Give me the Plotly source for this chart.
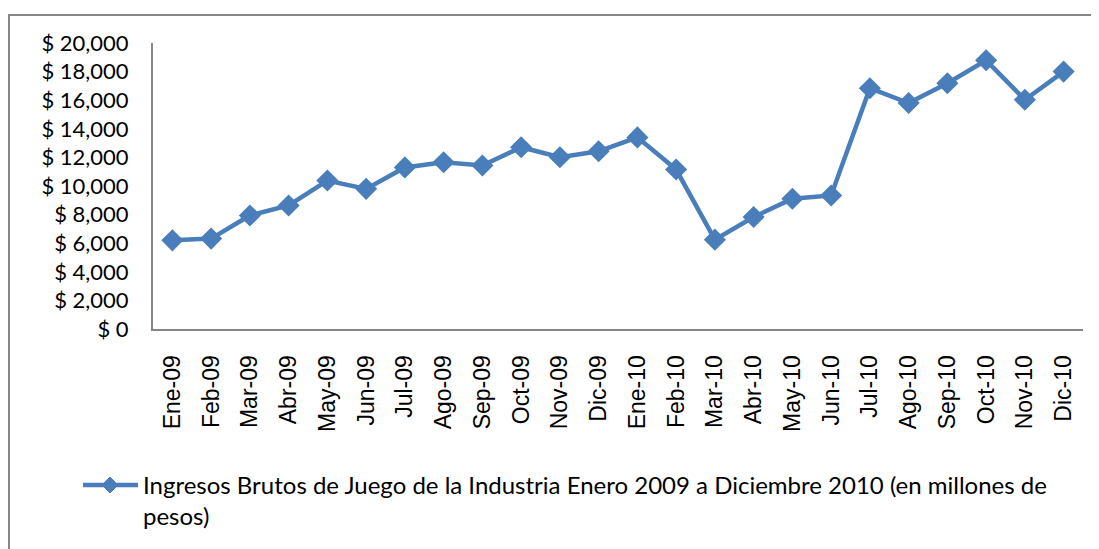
import plotly.graph_objects as go

months = ["Ene-09", "Feb-09", "Mar-09", "Abr-09", "May-09", "Jun-09", "Jul-09", "Ago-09",
          "Sep-09", "Oct-09", "Nov-09", "Dic-09", "Ene-10", "Feb-10", "Mar-10", "Abr-10",
          "May-10", "Jun-10", "Jul-10", "Ago-10", "Sep-10", "Oct-10", "Nov-10", "Dic-10"]
ingresos = [6200, 6320, 7940, 8640, 10380, 9800, 11300, 11660,
            11430, 12710, 12010, 12430, 13400, 11150, 6250, 7830,
            9110, 9340, 16840, 15800, 17190, 18790, 16030, 18000]
y_ticks = [0, 2000, 4000, 6000, 8000, 10000, 12000, 14000, 16000, 18000, 20000]
y_tick_text = ["$ 0", "$ 2,000", "$ 4,000", "$ 6,000", "$ 8,000", "$ 10,000", "$ 12,000",
               "$ 14,000", "$ 16,000", "$ 18,000", "$ 20,000"]
series_name = "Ingresos Brutos de Juego de la Industria Enero 2009 a Diciembre 2010 (en millones de<br>pesos)"

# figure is placed by the page at an 8px body offset
W, H = 1091, 541
L, R, T, B = 145, 1075, 35, 321
COLOR = "#4a7ebb"

fig = go.Figure()
fig.add_trace(go.Scatter(
    x=months, y=ingresos, mode="lines+markers", name=series_name,
    line=dict(color=COLOR, width=4.5),
    marker=dict(symbol="diamond", size=17, color=COLOR),
    showlegend=False,
))

def px_x(p):
    return (p - L) / (R - L)

def px_y(p):
    return (B - p) / (B - T)

# legend key (line + diamond), drawn in pixel positions
kx0, kx1, ky, kc, kh = 75, 130, 477, 102, 8
diamond = "M {x0},{ym} L {xm},{y1} L {x1},{ym} L {xm},{y0} Z".format(
    x0=px_x(kc - kh), x1=px_x(kc + kh), xm=px_x(kc),
    ym=px_y(ky), y0=px_y(ky - kh), y1=px_y(ky + kh))

fig.update_layout(
    width=W, height=H,
    margin=dict(l=L, r=W - R, t=T, b=H - B),
    paper_bgcolor="white", plot_bgcolor="white",
    font=dict(family="Lato, Open Sans, sans-serif", size=18, color="#000000"),
    showlegend=False,
    xaxis=dict(type="category", range=[-0.5, 23.5], showgrid=False, zeroline=False,
               showline=True, linecolor="#868686", linewidth=2, ticks="",
               tickangle=-90, ticklabelstandoff=15,
               tickfont=dict(size=23, family="Liberation Sans, Arial, sans-serif")),
    yaxis=dict(range=[0, 20000], tickvals=y_ticks, ticktext=y_tick_text,
               showgrid=False, zeroline=False, showline=True, linecolor="#868686",
               linewidth=2, ticks="", ticklabelstandoff=18,
               tickfont=dict(size=22, family="Lato, sans-serif")),
    shapes=[
        dict(type="line", xref="paper", yref="paper",
             x0=px_x(0), x1=px_x(W + 5), y0=px_y(7), y1=px_y(7),
             line=dict(color="#868686", width=2)),
        dict(type="line", xref="paper", yref="paper",
             x0=px_x(1), x1=px_x(1), y0=px_y(7), y1=px_y(H + 5),
             line=dict(color="#868686", width=2)),
        dict(type="line", xref="paper", yref="paper",
             x0=px_x(kx0), x1=px_x(kx1), y0=px_y(ky), y1=px_y(ky),
             line=dict(color=COLOR, width=4.5)),
        dict(type="path", xref="paper", yref="paper", path=diamond,
             fillcolor=COLOR, line=dict(color=COLOR, width=1)),
    ],
    annotations=[dict(
        text=series_name, xref="paper", yref="paper",
        x=px_x(133), y=px_y(460), xanchor="left", yanchor="top",
        align="left", showarrow=False,
        font=dict(size=24, family="Lato, sans-serif", color="#000000"),
    )],
)

fig.write_html("out.html")
